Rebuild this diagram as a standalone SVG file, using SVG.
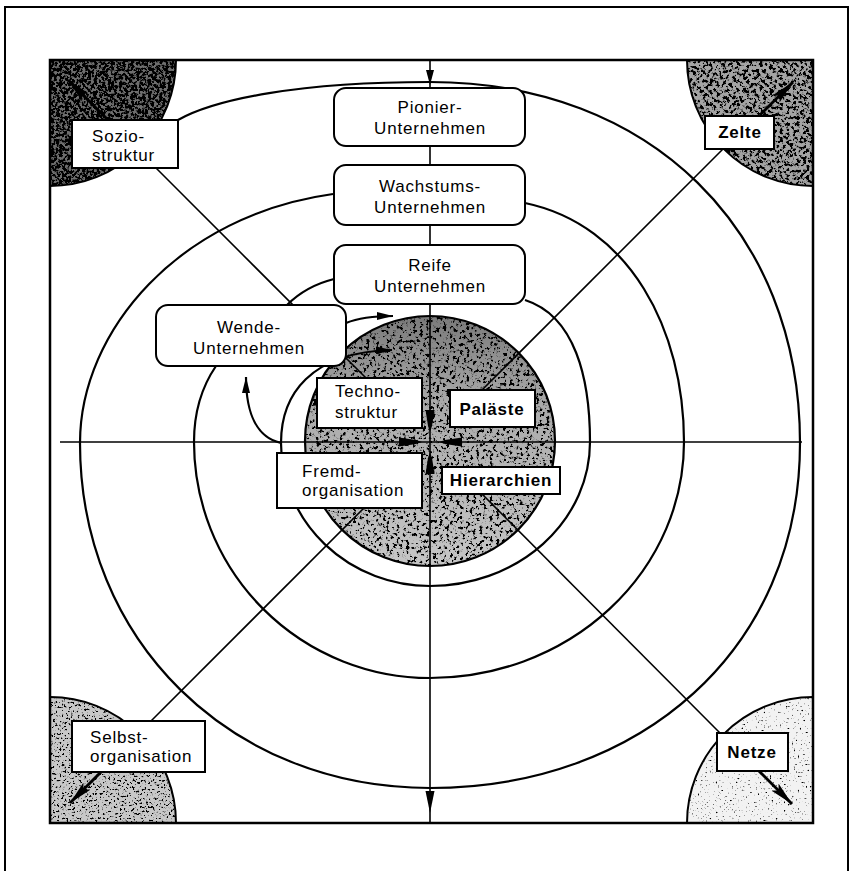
<svg xmlns="http://www.w3.org/2000/svg" width="851" height="871" viewBox="0 0 851 871">
<style>
.box{fill:#fff;stroke:#000;stroke-width:2}
.ln{fill:none;stroke:#000;stroke-width:1.6}
.ring{fill:none;stroke:#000;stroke-width:2.2}
.arc{fill:none;stroke:#000;stroke-width:2}
.t{font-family:"Liberation Sans",Arial,sans-serif;font-size:17px;letter-spacing:0.8px;fill:#000}
.c{text-anchor:middle}
.b{font-weight:bold}
.carrow{fill:none;stroke:#000;stroke-width:3}
</style>
<defs>
<filter id="fDark" filterUnits="userSpaceOnUse" x="0" y="0" width="851" height="871">
<feTurbulence type="fractalNoise" baseFrequency="0.35" numOctaves="4" seed="3" result="n"/>
<feColorMatrix in="n" type="matrix" values="0 0 0 0 0 0 0 0 0 0 0 0 0 0 0 -9 0 0 0 5.4" result="d"/>
<feComposite in="d" in2="SourceAlpha" operator="in" result="c"/>
<feMerge><feMergeNode in="SourceGraphic"/><feMergeNode in="c"/></feMerge>
</filter>
<filter id="fMid" filterUnits="userSpaceOnUse" x="0" y="0" width="851" height="871">
<feTurbulence type="fractalNoise" baseFrequency="0.3" numOctaves="4" seed="7" result="n"/>
<feColorMatrix in="n" type="matrix" values="0 0 0 0 0 0 0 0 0 0 0 0 0 0 0 -9 0 0 0 4.7" result="d"/>
<feComposite in="d" in2="SourceAlpha" operator="in" result="c"/>
<feMerge><feMergeNode in="SourceGraphic"/><feMergeNode in="c"/></feMerge>
</filter>
<filter id="fCenter" filterUnits="userSpaceOnUse" x="0" y="0" width="851" height="871">
<feTurbulence type="fractalNoise" baseFrequency="0.3" numOctaves="4" seed="13" result="n"/>
<feColorMatrix in="n" type="matrix" values="0 0 0 0 0 0 0 0 0 0 0 0 0 0 0 -9 0 0 0 4.2" result="d"/>
<feComposite in="d" in2="SourceAlpha" operator="in" result="c"/>
<feMerge><feMergeNode in="SourceGraphic"/><feMergeNode in="c"/></feMerge>
</filter>
<filter id="fLight" filterUnits="userSpaceOnUse" x="0" y="0" width="851" height="871">
<feTurbulence type="fractalNoise" baseFrequency="0.45" numOctaves="4" seed="11" result="n"/>
<feColorMatrix in="n" type="matrix" values="0 0 0 0 0 0 0 0 0 0 0 0 0 0 0 -9 0 0 0 3.9" result="d"/>
<feComposite in="d" in2="SourceAlpha" operator="in" result="c"/>
<feMerge><feMergeNode in="SourceGraphic"/><feMergeNode in="c"/></feMerge>
</filter>
<filter id="fSparse" filterUnits="userSpaceOnUse" x="0" y="0" width="851" height="871">
<feTurbulence type="fractalNoise" baseFrequency="0.5" numOctaves="4" seed="5" result="n"/>
<feColorMatrix in="n" type="matrix" values="0 0 0 0 0 0 0 0 0 0 0 0 0 0 0 -9 0 0 0 3.2" result="d"/>
<feComposite in="d" in2="SourceAlpha" operator="in" result="c"/>
<feMerge><feMergeNode in="SourceGraphic"/><feMergeNode in="c"/></feMerge>
</filter>
<linearGradient id="gCenter" x1="0" y1="0" x2="0" y2="1">
<stop offset="0" stop-color="#7a7a7a"/>
<stop offset="0.35" stop-color="#aaaaaa"/>
<stop offset="1" stop-color="#c6c6c6"/>
</linearGradient>
<marker id="ah" viewBox="0 0 16 8" refX="16" refY="4" markerWidth="16" markerHeight="8" markerUnits="userSpaceOnUse" orient="auto">
<path d="M0,0 L16,4 L0,8 z" fill="#000"/>
</marker>
<marker id="ahBig" viewBox="0 0 24 10" refX="24" refY="5" markerWidth="24" markerHeight="10" markerUnits="userSpaceOnUse" orient="auto">
<path d="M0,0 L24,5 L0,10 L5,5 z" fill="#000"/>
</marker>
</defs>

<rect x="0" y="0" width="851" height="871" fill="#fff"/>
<path d="M5,871 L5,7 L848,7 L848,871" fill="none" stroke="#000" stroke-width="2"/>

<g id="shading">
<path d="M50,60 L176,60 A126 126 0 0 1 50,186 Z" fill="#6e6e6e" filter="url(#fDark)"/>
<path d="M813,60 L687,60 A126 126 0 0 0 813,186 Z" fill="#a4a4a4" filter="url(#fMid)"/>
<path d="M50,823 L50,697 A126 126 0 0 1 176,823 Z" fill="#c8c8c8" filter="url(#fLight)"/>
<path d="M813,823 L813,697 A126 126 0 0 0 687,823 Z" fill="#f2f2f2" filter="url(#fSparse)"/>
<circle cx="430" cy="441" r="125" fill="url(#gCenter)" filter="url(#fCenter)"/>
</g>

<g id="connectors">
<path class="arc" d="M176,60 A126 126 0 0 1 50,186"/>
<path class="arc" d="M687,60 A126 126 0 0 0 813,186"/>
<path class="arc" d="M50,697 A126 126 0 0 1 176,823"/>
<path class="arc" d="M813,697 A126 126 0 0 0 687,823"/>
<circle cx="430" cy="441" r="125" fill="none" stroke="#000" stroke-width="2.2"/>
<line class="ln" x1="430" y1="60" x2="430" y2="823"/>
<line class="ln" x1="60" y1="442" x2="802" y2="442"/>
<polygon points="426,70 434,70 430,85" fill="#000"/>
<polygon points="425.5,791 434.5,791 430,813" fill="#000"/>
<line class="ln" x1="156" y1="168" x2="366" y2="378"/>
<line class="ln" x1="482" y1="390" x2="724" y2="148"/>
<line class="ln" x1="364" y1="508" x2="151" y2="721"/>
<line class="ln" x1="482" y1="494" x2="720" y2="733"/>
<path class="ring" d="M178,120 C215,99 300,82 430,82 C650,82 800,230 800,443 C800,650 640,788 430,788 C230,788 80,640 80,443 C80,330 180,215 333,194"/>
<path class="ring" d="M525,203 C630,225 684,330 684,442 A254 236 0 0 1 430,678 A236 236 0 0 1 194,442 C194,410 203,385 216,366"/>
<path class="ring" d="M287,305 C300,292 318,283 334,279"/>
<path class="ring" d="M525,300 C575,316 590,378 590,442 A160 144 0 0 1 430,586 A149 143 0 0 1 281,443"/>
<path class="ring" d="M346,323 C358,318 370,316 393,316" marker-end="url(#ah)"/>
<path class="ring" d="M281,443 C281,395 310,352 392,350" marker-end="url(#ah)"/>
<path class="ring" d="M281,443 C258,438 246,415 246,377" marker-end="url(#ah)"/>
<line class="carrow" x1="108" y1="120" x2="68" y2="80" marker-end="url(#ahBig)"/>
<line class="carrow" x1="760" y1="115" x2="793" y2="82" marker-end="url(#ahBig)"/>
<line class="carrow" x1="101" y1="772" x2="70" y2="803" marker-end="url(#ahBig)"/>
<line class="carrow" x1="759" y1="771" x2="792" y2="804" marker-end="url(#ahBig)"/>
</g>

<rect x="50" y="60" width="763" height="763" fill="none" stroke="#000" stroke-width="2.5"/>

<g id="pionier">
<rect class="box" x="334" y="88" width="191" height="58" rx="12"/>
<text class="t c" x="430" y="113">Pionier-</text>
<text class="t c" x="430" y="134">Unternehmen</text>
</g>
<g id="wachstums">
<rect class="box" x="334" y="165" width="191" height="60" rx="12"/>
<text class="t c" x="430" y="192">Wachstums-</text>
<text class="t c" x="430" y="213">Unternehmen</text>
</g>
<g id="reife">
<rect class="box" x="334" y="245" width="191" height="59" rx="12"/>
<text class="t c" x="430" y="271">Reife</text>
<text class="t c" x="430" y="292">Unternehmen</text>
</g>
<g id="wende">
<rect class="box" x="156" y="305" width="190" height="61" rx="12"/>
<text class="t c" x="249" y="333">Wende-</text>
<text class="t c" x="249" y="354">Unternehmen</text>
</g>
<g id="sozio">
<rect class="box" x="72" y="120" width="106" height="48"/>
<text class="t" x="92" y="142">Sozio-</text>
<text class="t" x="92" y="161">struktur</text>
</g>
<g id="zelte">
<rect class="box" x="705" y="116" width="69" height="33"/>
<text class="t c b" x="740" y="138">Zelte</text>
</g>
<g id="techno">
<rect class="box" x="317" y="378" width="105" height="50"/>
<text class="t" x="335" y="397">Techno-</text>
<text class="t" x="335" y="418">struktur</text>
</g>
<g id="palaeste">
<rect class="box" x="450" y="390" width="85" height="37"/>
<text class="t c b" x="492" y="415">Paläste</text>
</g>
<g id="fremd">
<rect class="box" x="277" y="453" width="145" height="55"/>
<text class="t" x="302" y="477">Fremd-</text>
<text class="t" x="302" y="496">organisation</text>
</g>
<g id="hierarchien">
<rect class="box" x="442" y="467" width="118" height="27"/>
<text class="t c b" x="501" y="486">Hierarchien</text>
</g>
<g id="selbst">
<rect class="box" x="72" y="721" width="133" height="51"/>
<text class="t" x="90" y="743">Selbst-</text>
<text class="t" x="90" y="762">organisation</text>
</g>
<g id="netze">
<rect class="box" x="717" y="733" width="71" height="38"/>
<text class="t c b" x="752" y="758">Netze</text>
</g>

<g id="center-arrows" fill="#000">
<polygon points="425.5,410 434.5,410 432,426 430,432 428,426"/>
<polygon points="425.5,474 434.5,474 432,458 430,452 428,458"/>
<polygon points="399,437.5 399,446.5 416,444 422,442 416,440"/>
<polygon points="462,437.5 462,446.5 445,444 439,442 445,440"/>
</g>
</svg>
